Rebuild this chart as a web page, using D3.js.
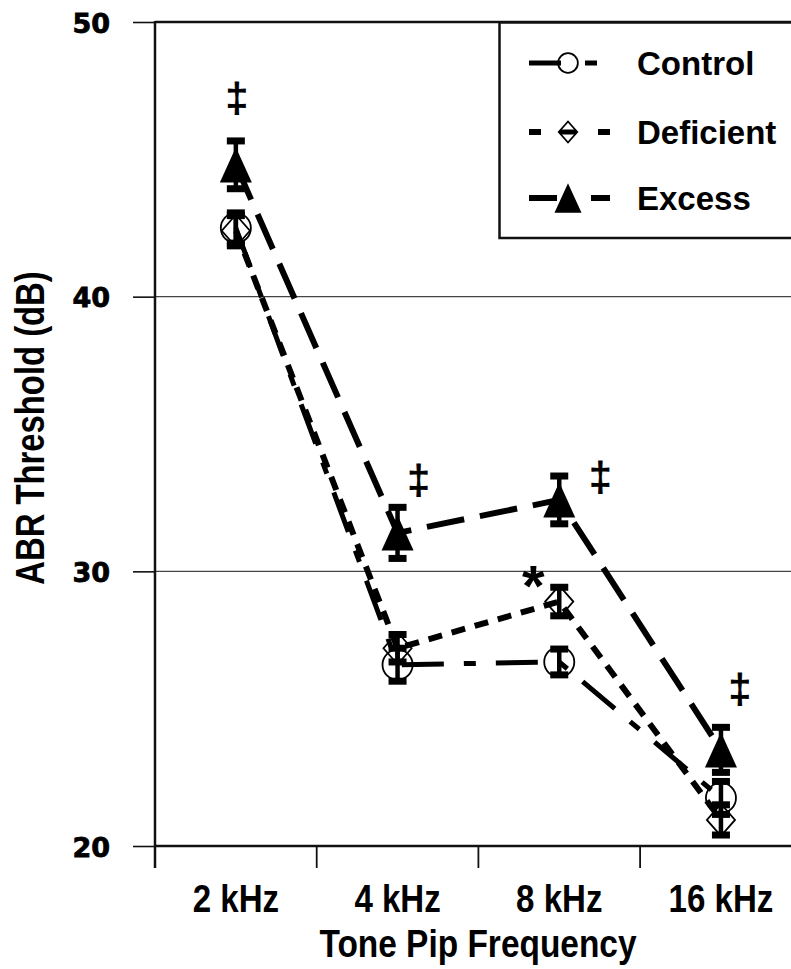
<!DOCTYPE html>
<html>
<head>
<meta charset="utf-8">
<script src="https://cdn.jsdelivr.net/npm/d3@7"></script>
<style>
  body { margin: 0; background: #fff; }
  svg { display: block; overflow: hidden; }
  .narrow { font-family: "Liberation Sans", Arial, sans-serif; font-weight: bold; }
</style>
</head>
<body>
<div id="chart"></div>
<script>
// data (dB, mean +/- SEM)
var categories = ["2 kHz", "4 kHz", "8 kHz", "16 kHz"];
var yTicks = [20, 30, 40, 50];
var controlMean = [42.5, 26.6, 26.7, 21.75];
var controlErr = [0.55, 0.6, 0.47, 0.6];
var deficientMean = [42.4, 27.2, 28.9, 20.95];
var deficientErr = [0.55, 0.5, 0.52, 0.55];
var excessMean = [44.8, 31.4, 32.6, 23.5];
var excessErr = [0.87, 0.93, 0.87, 0.82];
// significance marks: level in dB where the mark sits
var daggerLevel = [47.1, 33.2, 33.3, 25.6];
var starCategory = "8 kHz";
var starLevel = 29.95;

var width = 791, height = 969;

var svg = d3.select("#chart").append("svg")
    .attr("width", width)
    .attr("height", height);

var x = d3.scaleBand().domain(categories).range([155, 155 + 4 * 161.7]);
var y = d3.scaleLinear().domain([20, 50]).range([846, 22]);
var cx = function (c) { return x(c) + x.bandwidth() / 2; };

// squeeze bold text horizontally (the figure uses a narrow bold face)
function squeeze(sel, f) {
    sel.each(function () {
        var len = this.getComputedTextLength();
        d3.select(this)
            .attr("textLength", len * f)
            .attr("lengthAdjust", "spacingAndGlyphs");
    });
}

// gridlines
svg.append("g")
    .selectAll("line")
    .data(yTicks.filter(function (d) { return d > 20; }))
    .enter().append("line")
    .attr("x1", 155).attr("x2", width)
    .attr("y1", function (d) { return y(d); })
    .attr("y2", function (d) { return y(d); })
    .attr("stroke", function (d) { return d == 50 ? "#111" : "#444"; })
    .attr("stroke-width", function (d) { return d == 50 ? 2.5 : 1.2; });

// y axis
var yAxis = svg.append("g")
    .attr("transform", "translate(155,0)")
    .call(d3.axisLeft(y).tickValues(yTicks).tickSize(22).tickPadding(23));
yAxis.select(".domain").remove();
yAxis.selectAll(".tick line").attr("stroke", "#111").attr("stroke-width", 1.6);
yAxis.selectAll("text")
    .attr("dy", "0.38em")
    .style("font-family", "'DejaVu Sans', sans-serif")
    .style("font-weight", "bold")
    .style("font-size", "27px")
    .style("stroke", "#000")
    .style("stroke-width", "0.8px")
    .attr("fill", "#000");
svg.append("line")
    .attr("x1", 155).attr("x2", 155)
    .attr("y1", y(50) - 1).attr("y2", 868)
    .attr("stroke", "#111").attr("stroke-width", 2.5);

// x axis
var xAxis = svg.append("g")
    .attr("transform", "translate(0,846)")
    .call(d3.axisBottom(x).tickSize(0).tickPadding(39));
xAxis.select(".domain").remove();
xAxis.selectAll("text")
    .attr("class", "narrow")
    .attr("dy", null)
    .attr("y", 66)
    .style("font-size", "38px")
    .attr("fill", "#000")
    .call(squeeze, 0.87);
svg.append("line")
    .attr("x1", 155).attr("x2", width)
    .attr("y1", 846).attr("y2", 846)
    .attr("stroke", "#111").attr("stroke-width", 2.5);
svg.append("g")
    .selectAll("line")
    .data(categories)
    .enter().append("line")
    .attr("x1", function (d) { return x(d); })
    .attr("x2", function (d) { return x(d); })
    .attr("y1", 846).attr("y2", 868)
    .attr("stroke", "#111").attr("stroke-width", 1.8);

// axis titles
svg.append("text")
    .attr("class", "narrow")
    .attr("x", 478).attr("y", 957)
    .attr("text-anchor", "middle")
    .style("font-size", "38px")
    .text("Tone Pip Frequency")
    .call(squeeze, 0.88);
svg.append("text")
    .attr("class", "narrow")
    .attr("transform", "translate(44,428) rotate(-90)")
    .attr("text-anchor", "middle")
    .style("font-size", "40px")
    .text("ABR Threshold (dB)")
    .call(squeeze, 0.82);

// series
var series = [
    {name: "Control", mean: controlMean, err: controlErr, dash: "42,20,12,20", width: 5, symbol: "circle"},
    {name: "Deficient", mean: deficientMean, err: deficientErr, dash: "14,10", width: 6, symbol: "diamond"},
    {name: "Excess", mean: excessMean, err: excessErr, dash: "38,16", width: 6, symbol: "triangle"}
];

var line = d3.line()
    .x(function (d) { return cx(d.cat); })
    .y(function (d) { return y(d.value); });

function pointsOf(s) {
    return categories.map(function (c, i) {
        return {cat: c, value: s.mean[i], err: s.err[i]};
    });
}

svg.append("g")
    .selectAll("path")
    .data(series)
    .enter().append("path")
    .attr("d", function (s) { return line(pointsOf(s)); })
    .attr("fill", "none")
    .attr("stroke", "#000")
    .attr("stroke-width", function (s) { return s.width; })
    .attr("stroke-dasharray", function (s) { return s.dash; });

// marker drawing helper
function drawSymbol(g, type, px, py, size) {
    if (type == "circle") {
        g.append("circle")
            .attr("cx", px).attr("cy", py).attr("r", size * 0.47)
            .attr("fill", "none").attr("stroke", "#000").attr("stroke-width", 1.8);
    } else if (type == "diamond") {
        var w = size * 0.44, h = size * 0.5;
        g.append("path")
            .attr("d", "M" + px + "," + (py - h) + "L" + (px + w) + "," + py +
                "L" + px + "," + (py + h) + "L" + (px - w) + "," + py + "Z")
            .attr("fill", "none").attr("stroke", "#000").attr("stroke-width", 1.8);
    } else {
        var tw = size * 0.5, th = size * 0.55;
        g.append("path")
            .attr("d", "M" + px + "," + (py - th) + "L" + (px + tw) + "," + (py + th) +
                "L" + (px - tw) + "," + (py + th) + "Z")
            .attr("fill", "#000");
    }
}

var marks = svg.append("g");
series.forEach(function (s) {
    pointsOf(s).forEach(function (p) {
        drawSymbol(marks, s.symbol, cx(p.cat), y(p.value), 32);
    });
});

// error bars
var bars = svg.append("g");
series.forEach(function (s) {
    pointsOf(s).forEach(function (p) {
        var px = cx(p.cat);
        var top = y(p.value + p.err), bot = y(p.value - p.err);
        bars.append("line")
            .attr("x1", px).attr("x2", px)
            .attr("y1", top).attr("y2", bot)
            .attr("stroke", "#000").attr("stroke-width", 4.5);
        [top, bot].forEach(function (yy) {
            bars.append("rect")
                .attr("x", px - 9).attr("y", yy - 3.5)
                .attr("width", 18).attr("height", 7)
                .attr("fill", "#000");
        });
    });
});

// significance marks
var daggerShift = [1, 21, 41, 19];
svg.append("g")
    .selectAll("text")
    .data(categories)
    .enter().append("text")
    .attr("x", function (d, i) { return cx(d) + daggerShift[i]; })
    .attr("y", function (d, i) { return y(daggerLevel[i]) + 10.5; })
    .attr("text-anchor", "middle")
    .style("font-family", "'Liberation Sans', Arial, sans-serif")
    .style("font-size", "40px")
    .style("stroke", "#000")
    .style("stroke-width", "1px")
    .text("\u2021");
svg.append("text")
    .attr("x", cx(starCategory) - 26)
    .attr("y", y(starLevel) + 33)
    .attr("text-anchor", "middle")
    .style("font-family", "'Liberation Sans', Arial, sans-serif")
    .style("font-weight", "bold")
    .style("font-size", "58px")
    .text("*");

// legend
var legend = svg.append("g");
legend.append("rect")
    .attr("x", 499.5).attr("y", 22.5)
    .attr("width", 320).attr("height", 215.5)
    .attr("fill", "#fff").attr("stroke", "#111").attr("stroke-width", 2.5);
var legendY = [63, 132, 198];
series.forEach(function (s, i) {
    var ly = legendY[i];
    var row = legend.append("g");
    row.append("line")
        .attr("x1", 529).attr("x2", 610)
        .attr("y1", ly).attr("y2", ly)
        .attr("stroke", "#000")
        .attr("stroke-width", s.width)
        .attr("stroke-dasharray", s.symbol == "circle" ? "32,24,12,40" :
            s.symbol == "diamond" ? "12,57,12,40" : "28,34,19,40");
    if (s.symbol == "diamond") {
        row.append("rect").attr("x", 560).attr("y", ly - 2.5).attr("width", 16).attr("height", 5).attr("fill", "#000");
    }
    drawSymbol(row, s.symbol, 568, ly, s.symbol == "triangle" ? 27 : 21);
    row.append("text")
        .attr("x", 637).attr("y", ly + 11.5)
        .style("font-family", "'Liberation Sans', Arial, sans-serif")
        .style("font-weight", "bold")
        .style("font-size", "33px")
        .text(s.name);
});
</script>
</body>
</html>
